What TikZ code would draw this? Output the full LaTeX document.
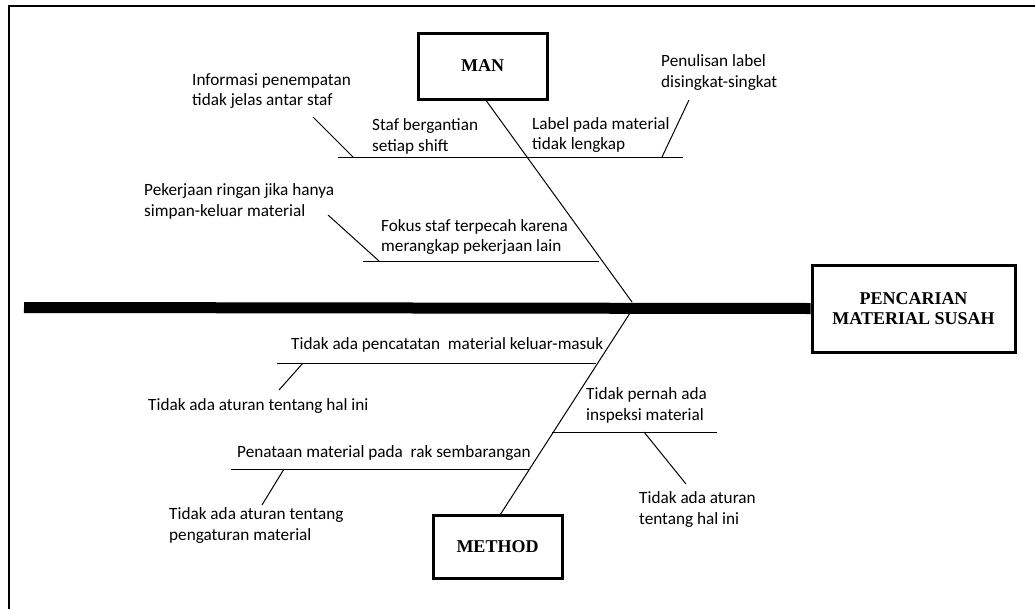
\documentclass[tikz,border=0pt]{standalone}
\usepackage{fontspec}
\setmainfont{Carlito}
\newfontfamily\boxfont{Liberation Serif}
\begin{document}
\begin{tikzpicture}[x=1pt,y=-1pt,
  lbl/.style={anchor=west,inner sep=0pt,align=left,font=\fontsize{17.2}{20.5}\selectfont},
  catbox/.style={draw,line width=3pt,inner sep=0pt,font=\boxfont\bfseries\fontsize{18}{21}\selectfont,align=center},
  bone/.style={line width=1pt},
  twig/.style={line width=1pt}]
\useasboundingbox (0,0) rectangle (1035,608);
% frame (top and left)
\draw[line width=2pt] (1036,6) -- (9,6) -- (9,610);
% effect box
\node[catbox,minimum width=203pt,minimum height=87pt] (effect) at (913.5,308.5) {PENCARIAN\\[-1pt]MATERIAL SUSAH};
% spine
\coordinate (tail) at (24,307.5);
\draw[line width=11pt,line cap=butt] (tail) -- (effect.west);
% category boxes
\node[catbox,minimum width=129pt,minimum height=66pt] (man) at (482.5,66) {MAN};
\node[catbox,minimum width=129pt,minimum height=63pt] (method) at (497.5,546.5) {METHOD};
\coordinate (manend) at (632,302);
\coordinate (methend) at (630,313);
\draw[bone] (485,99) -- (manend);
\draw[bone] (methend) -- (500,515);
% MAN branches
\coordinate (b1l) at (338,157); \coordinate (b1r) at (683,157);
\draw[bone] (b1l) -- (b1r);
\coordinate (s1a) at (353,157); \coordinate (s1b) at (313,117);
\draw[twig] (s1a) -- (s1b);
\coordinate (s2a) at (662,157); \coordinate (s2b) at (689,100);
\draw[twig] (s2a) -- (s2b);
\coordinate (b2l) at (363,261); \coordinate (b2r) at (599,261);
\draw[bone] (b2l) -- (b2r);
\coordinate (s3a) at (379,261); \coordinate (s3b) at (328,215);
\draw[twig] (s3a) -- (s3b);
% METHOD branches
\coordinate (b3l) at (277,363); \coordinate (b3r) at (596,363);
\draw[bone] (b3l) -- (b3r);
\coordinate (s4a) at (303,363); \coordinate (s4b) at (279,390);
\draw[twig] (s4a) -- (s4b);
\coordinate (b4l) at (231,469); \coordinate (b4r) at (529,469);
\draw[bone] (b4l) -- (b4r);
\coordinate (s5a) at (284,469); \coordinate (s5b) at (262,505);
\draw[twig] (s5a) -- (s5b);
\coordinate (b5l) at (552,432); \coordinate (b5r) at (717,432);
\draw[bone] (b5l) -- (b5r);
\coordinate (s6a) at (644,432); \coordinate (s6b) at (686,484);
\draw[twig] (s6a) -- (s6b);
% labels
\node[lbl] (t1) at (192,91) {Informasi penempatan\\tidak jelas antar staf};
\node[lbl] (t2) at (372,136.5) {Staf bergantian\\setiap shift};
\node[lbl] (t3) at (532,135) {Label pada material\\tidak lengkap};
\node[lbl] (t4) at (661,72.5) {Penulisan label\\disingkat-singkat};
\node[lbl] (t5) at (144,201.5) {Pekerjaan ringan jika hanya\\simpan-keluar material};
\node[lbl] (t6) at (381,237) {Fokus staf terpecah karena\\merangkap pekerjaan lain};
\node[lbl] (t7) at (291,345) {Tidak ada pencatatan\ \ material keluar-masuk};
\node[lbl] (t8) at (148,406) {Tidak ada aturan tentang hal ini};
\node[lbl] (t9) at (237,453) {Penataan material pada\ \ rak sembarangan};
\node[lbl] (t10) at (169,525.5) {Tidak ada aturan tentang\\pengaturan material};
\node[lbl] (t11) at (586,405.5) {Tidak pernah ada\\inspeksi material};
\node[lbl] (t12) at (639,509.5) {Tidak ada aturan\\tentang hal ini};
\end{tikzpicture}
\end{document}
